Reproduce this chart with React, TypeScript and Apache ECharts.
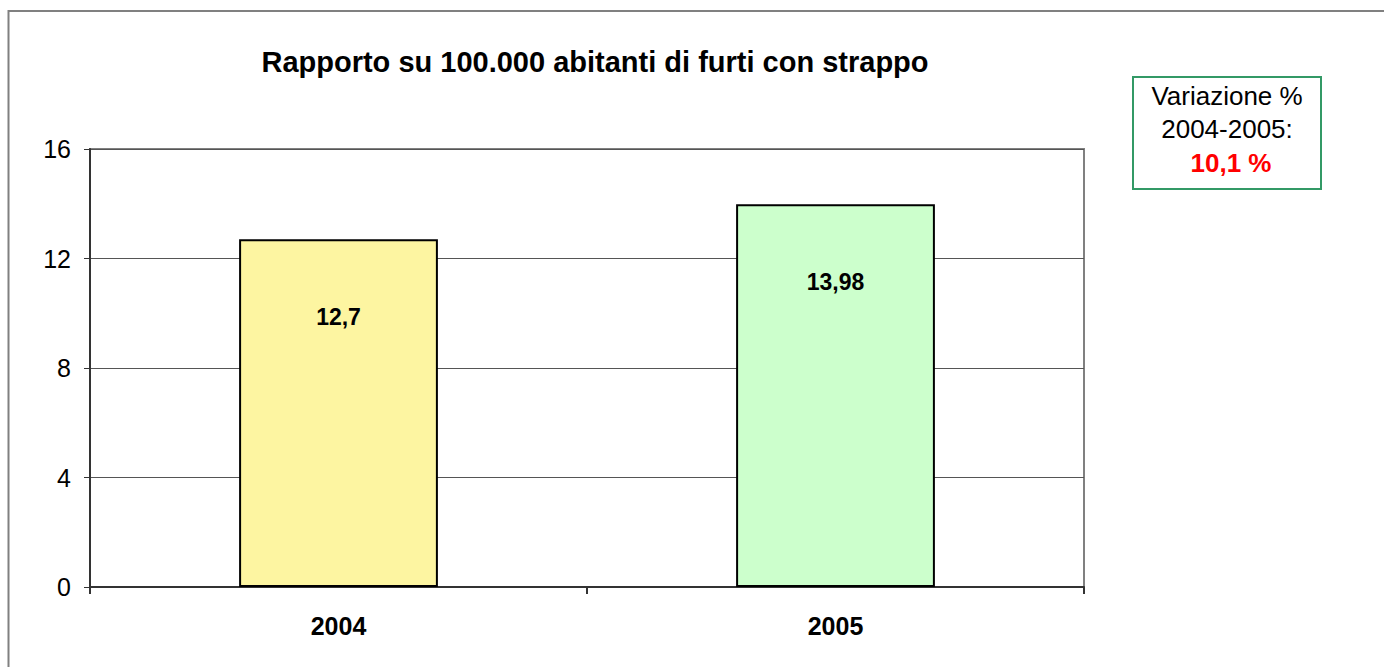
import React, { useEffect, useRef } from "react";
import * as echarts from "echarts";

const categories = ["2004", "2005"];
const values = [12.7, 13.98];
const valueLabels = ["12,7", "13,98"];
const barColors = ["#FDF5A1", "#CCFFCC"];
const yTicks = { min: 0, max: 16, interval: 4 };
const titleText = "Rapporto su 100.000 abitanti di furti con strappo";
const boxLines = ["Variazione %", "2004-2005:", "10,1 %"];

const FONT = "'Liberation Sans', Arial, sans-serif";

export default function App() {
  const ref = useRef<HTMLDivElement>(null);
  useEffect(() => {
    if (!ref.current) return;
    const chart = echarts.init(ref.current, null, { renderer: "svg" });
    chart.setOption({
      animation: false,
      backgroundColor: "#ffffff",
      textStyle: { fontFamily: FONT },
      grid: {
        left: 90,
        top: 149,
        width: 994,
        height: 438,
        show: true,
        borderColor: "#808080",
        borderWidth: 2,
        backgroundColor: "transparent",
      },
      xAxis: {
        type: "category",
        data: categories,
        axisLine: { lineStyle: { color: "#333333", width: 2 } },
        axisTick: { show: true, length: 7, lineStyle: { color: "#333333", width: 2 } },
        axisLabel: {
          fontSize: 25,
          fontWeight: "bold",
          color: "#000",
          margin: 26,
          fontFamily: FONT,
        },
      },
      yAxis: {
        type: "value",
        min: yTicks.min,
        max: yTicks.max,
        interval: yTicks.interval,
        axisLine: { show: true, lineStyle: { color: "#333333", width: 2 } },
        axisTick: { show: true, length: 6, lineStyle: { color: "#333333", width: 1 } },
        axisLabel: { fontSize: 25, color: "#000", margin: 19, fontFamily: FONT },
        splitLine: { show: true, lineStyle: { color: "#555555", width: 1 } },
      },
      series: [
        {
          type: "bar",
          barWidth: "40%",
          data: values.map((v, i) => ({
            value: v,
            itemStyle: { color: barColors[i], borderColor: "#000", borderWidth: 2 },
          })),
          label: {
            show: true,
            position: "insideTop",
            distance: 66,
            fontSize: 23,
            fontWeight: "bold",
            color: "#000",
            fontFamily: FONT,
            formatter: (p: any) => valueLabels[p.dataIndex],
          },
        },
      ],
      graphic: [
        {
          type: "polyline",
          shape: { points: [[8.5, 900], [8.5, 11], [1600, 11]] },
          style: { stroke: "#808080", lineWidth: 2, fill: null },
          silent: true,
        },
        {
          type: "text",
          x: 595,
          y: 62,
          style: {
            text: titleText,
            fontSize: 29,
            fontWeight: "bold",
            fontFamily: FONT,
            fill: "#000",
            textAlign: "center",
            textVerticalAlign: "middle",
          },
        },
        {
          type: "rect",
          shape: { x: 1133, y: 77, width: 188, height: 112 },
          style: { fill: "#ffffff", stroke: "#339966", lineWidth: 2 },
        },
        {
          type: "text",
          x: 1227,
          y: 96,
          style: {
            text: boxLines[0],
            fontSize: 26,
            fontFamily: FONT,
            fill: "#000",
            textAlign: "center",
            textVerticalAlign: "middle",
          },
        },
        {
          type: "text",
          x: 1227,
          y: 129,
          style: {
            text: boxLines[1],
            fontSize: 26,
            fontFamily: FONT,
            fill: "#000",
            textAlign: "center",
            textVerticalAlign: "middle",
          },
        },
        {
          type: "text",
          x: 1231,
          y: 163,
          style: {
            text: boxLines[2],
            fontSize: 26,
            fontWeight: "bold",
            fontFamily: FONT,
            fill: "#FF0000",
            textAlign: "center",
            textVerticalAlign: "middle",
          },
        },
      ],
    });
    return () => chart.dispose();
  }, []);
  return (
    <div
      ref={ref}
      style={{ position: "fixed", left: 0, top: 0, width: 1384, height: 667 }}
    />
  );
}
